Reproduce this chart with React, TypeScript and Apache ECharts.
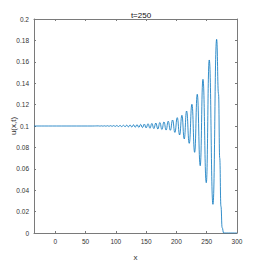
import React, { useEffect, useRef } from "react";
import * as echarts from "echarts";

// Flat start, oscillation extrema (peaks and troughs), and the final drop
const flatStart: [number, number][] = [[-35, 0.1], [62, 0.1]];
const peakX = [71.5, 76.3, 81.2, 86.2, 91.3, 96.5, 101.7, 107, 112.5, 118, 123.5, 129.2, 135, 141, 147, 153.2, 159.5, 166, 172.7, 179.5, 186.5, 193.7, 201.4, 209.1, 216.8, 225.6, 234.4, 243.8, 254.2, 266.4];
const peakY = [0.1001, 0.10015, 0.1002, 0.10025, 0.1003, 0.1004, 0.1005, 0.1006, 0.1007, 0.1008, 0.1009, 0.1011, 0.1013, 0.1015, 0.1018, 0.1021, 0.1024, 0.1028, 0.1033, 0.1038, 0.1045, 0.1056, 0.1078, 0.110, 0.114, 0.1203, 0.1296, 0.1436, 0.1617, 0.181];
const troughX = [73.9, 78.8, 83.7, 88.8, 93.9, 99.1, 104.4, 109.8, 115.3, 120.8, 126.4, 132.1, 138, 144, 150.1, 156.4, 162.8, 169.4, 176.1, 183, 190, 197.5, 205.3, 212.9, 221.2, 230.1, 239.3, 249.3, 260.3];
const troughY = [0.0999, 0.09985, 0.0998, 0.09975, 0.0997, 0.0996, 0.0995, 0.0994, 0.0993, 0.0992, 0.0991, 0.0989, 0.0987, 0.0985, 0.0982, 0.0979, 0.0976, 0.0972, 0.0967, 0.0962, 0.096, 0.094, 0.0916, 0.0879, 0.0838, 0.0754, 0.0629, 0.047, 0.0268];
const dropTail: [number, number][] = [[269.5, 0.13], [271.5, 0.07], [273.5, 0.025], [275.5, 0.005], [278, 0], [300, 0]];

const xTicks = [0, 50, 100, 150, 200, 250, 300];

function buildData(): [number, number][] {
  const pts: [number, number][] = [...flatStart];
  for (let i = 0; i < peakX.length; i++) {
    pts.push([peakX[i], peakY[i]]);
    if (i < troughX.length) pts.push([troughX[i], troughY[i]]);
  }
  return pts.concat(dropTail);
}

export default function App() {
  const ref = useRef<HTMLDivElement>(null);
  useEffect(() => {
    document.body.style.margin = "0";
    if (!ref.current) return;
    const chart = echarts.init(ref.current, undefined, { renderer: "svg" });
    const font = "'Liberation Sans Narrow', 'Liberation Sans', sans-serif";
    const axisColor = "#7a7a7a";
    const labelStyle = { color: "#333", fontSize: 6.5, fontFamily: font };
    chart.setOption({
      animation: false,
      title: {
        text: "t=250",
        left: 136,
        top: 6,
        textAlign: "center",
        textStyle: { fontSize: 8, fontWeight: "normal", color: "#111", fontFamily: font },
      },
      grid: { left: 34, right: 25, top: 19, bottom: 29, outerBoundsMode: "none", containLabel: false },
      xAxis: [
        {
          type: "value",
          min: -35,
          max: 300,
          name: "x",
          nameLocation: "middle",
          nameGap: 20,
          nameMoveOverlap: false,
          nameTextStyle: { color: "#333", fontSize: 8, fontFamily: font },
          axisLine: { show: true, onZero: false, lineStyle: { color: axisColor, width: 1 } },
          axisTick: { show: true, inside: true, length: 2, customValues: xTicks, lineStyle: { color: axisColor } },
          axisLabel: { ...labelStyle, margin: 5, customValues: xTicks },
          splitLine: { show: false },
        },
        {
          type: "value",
          position: "top",
          min: -35,
          max: 300,
          axisLine: { show: true, onZero: false, lineStyle: { color: axisColor, width: 1 } },
          axisTick: { show: true, inside: true, length: 2, customValues: xTicks, lineStyle: { color: axisColor } },
          axisLabel: { show: false },
          splitLine: { show: false },
        },
      ],
      yAxis: [
        {
          type: "value",
          min: 0,
          max: 0.2,
          interval: 0.02,
          name: "u(x,t)",
          nameLocation: "middle",
          nameGap: 16.5,
          nameMoveOverlap: false,
          nameTextStyle: { color: "#333", fontSize: 8, fontFamily: font },
          axisLine: { show: true, onZero: false, lineStyle: { color: axisColor, width: 1 } },
          axisTick: { show: true, inside: true, length: 2, lineStyle: { color: axisColor } },
          axisLabel: {
            ...labelStyle,
            margin: 5,
            formatter: (v: number) => String(Math.round(v * 100) / 100),
          },
          splitLine: { show: false },
        },
        {
          type: "value",
          position: "right",
          min: 0,
          max: 0.2,
          interval: 0.02,
          axisLine: { show: true, onZero: false, lineStyle: { color: axisColor, width: 1 } },
          axisTick: { show: true, inside: true, length: 2, lineStyle: { color: axisColor } },
          axisLabel: { show: false },
          splitLine: { show: false },
        },
      ],
      series: [
        {
          type: "line",
          data: buildData(),
          showSymbol: false,
          smooth: 0.5,
          smoothMonotone: "x",
          lineStyle: { color: "#0072bd", width: 0.8 },
          xAxisIndex: 0,
          yAxisIndex: 0,
        },
      ],
    });
    return () => chart.dispose();
  }, []);
  return <div ref={ref} style={{ width: 262, height: 262 }} />;
}
